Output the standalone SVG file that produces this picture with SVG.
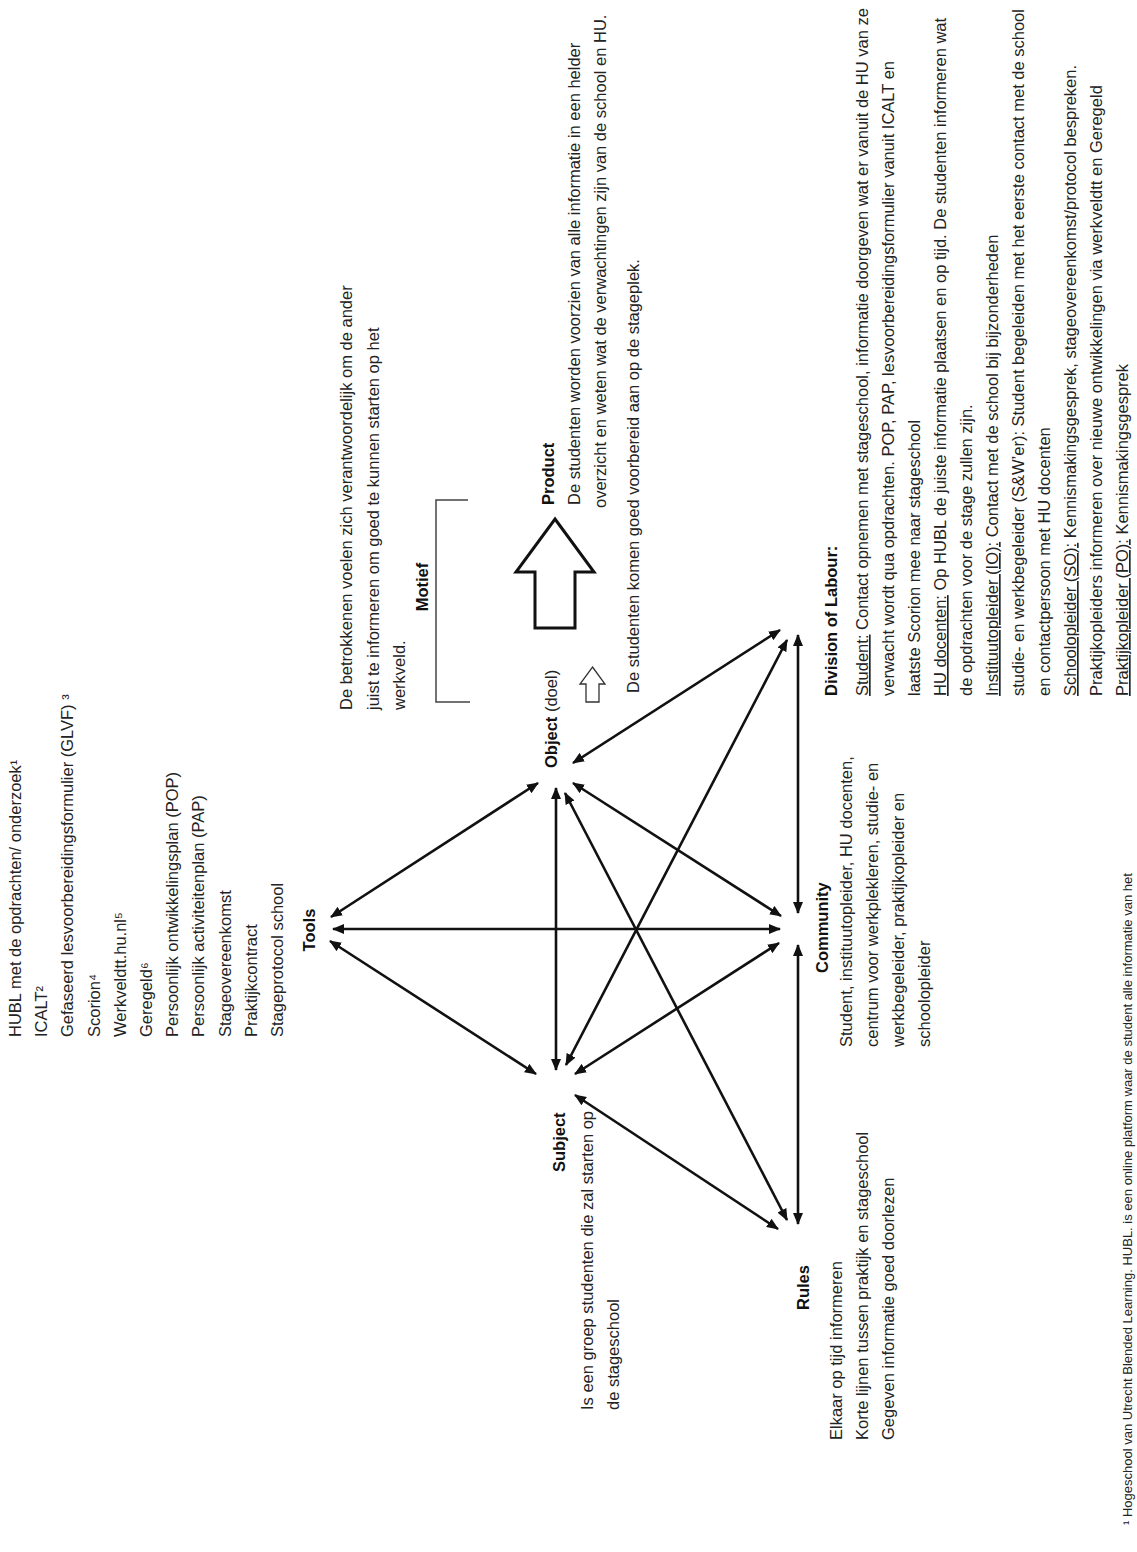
<svg xmlns="http://www.w3.org/2000/svg" width="1137" height="1552" viewBox="0 0 1137 1552">
<style>
text{font-family:"Liberation Sans",Arial,sans-serif;font-size:16.5px;fill:#232323}
.b{font-weight:bold;fill:#111}
.u{text-decoration:underline}
.fn{font-size:13px}
.con line{stroke:#111;stroke-width:2.6;marker-start:url(#ah);marker-end:url(#ah)}
</style>
<defs>
<marker id="ah" viewBox="0 0 12 10" refX="11" refY="5" markerWidth="12" markerHeight="10" markerUnits="userSpaceOnUse" orient="auto-start-reverse"><path d="M0,0 L12,5 L0,10 z" fill="#111"/></marker>
</defs>
<rect width="1137" height="1552" fill="#fff"/>

<g id="connectors" class="con">
<line x1="331" y1="917" x2="538" y2="783"/>
<line x1="333" y1="929" x2="780" y2="929"/>
<line x1="330" y1="941" x2="536" y2="1074"/>
<line x1="556" y1="788" x2="556" y2="1070"/>
<line x1="565" y1="793" x2="787" y2="1220"/>
<line x1="573" y1="783" x2="781" y2="916"/>
<line x1="573" y1="763" x2="780" y2="630"/>
<line x1="566" y1="1065" x2="787" y2="640"/>
<line x1="575" y1="1074" x2="779" y2="943"/>
<line x1="575" y1="1095" x2="778" y2="1229"/>
<line x1="798" y1="635" x2="798" y2="913"/>
<line x1="798" y1="945" x2="798" y2="1224"/>
</g>

<g id="tools">
<g transform="translate(21,1037) rotate(-90)">
<text x="0" y="0">HUBL met de opdrachten/ onderzoek¹</text>
<text x="0" y="26.2">ICALT²</text>
<text x="0" y="52.4">Gefaseerd lesvoorbereidingsformulier (GLVF) ³</text>
<text x="0" y="78.6">Scorion⁴</text>
<text x="0" y="104.8">Werkveldtt.hu.nl⁵</text>
<text x="0" y="131">Geregeld⁶</text>
<text x="0" y="157.2">Persoonlijk ontwikkelingsplan (POP)</text>
<text x="0" y="183.4">Persoonlijk activiteitenplan (PAP)</text>
<text x="0" y="209.6">Stageovereenkomst</text>
<text x="0" y="235.8">Praktijkcontract</text>
<text x="0" y="262">Stageprotocol school</text>
</g>
<text class="b" text-anchor="middle" transform="translate(315,930) rotate(-90)">Tools</text>
</g>

<g id="motive">
<g transform="translate(352,710) rotate(-90)">
<text x="0" y="0">De betrokkenen voelen zich verantwoordelijk om de ander</text>
<text x="0" y="26.5">juist te informeren om goed te kunnen starten op het</text>
<text x="0" y="53">werkveld.</text>
</g>
<text class="b" text-anchor="middle" transform="translate(428,587) rotate(-90)">Motief</text>
<path d="M468,500 H436 V702 H470" fill="none" stroke="#444" stroke-width="1.5"/>
</g>

<g id="object">
<text transform="translate(557,768) rotate(-90)"><tspan class="b">Object</tspan> (doel)</text>
<polygon points="592.5,667 605,684 599,684 599,702 586,702 586,684 580,684" fill="#fff" stroke="#333" stroke-width="1.3"/>
<text transform="translate(639,693) rotate(-90)">De studenten komen goed voorbereid aan op de stageplek.</text>
</g>

<g id="product">
<polygon points="555,519 594,572 575,572 575,628 535,628 535,572 516,572" fill="#fff" stroke="#111" stroke-width="3"/>
<text class="b" transform="translate(554,505) rotate(-90)">Product</text>
<text transform="translate(580,505) rotate(-90)">De studenten worden voorzien van alle informatie in een helder</text>
<text transform="translate(606,508) rotate(-90)">overzicht en weten wat de verwachtingen zijn van de school en HU.</text>
</g>

<g id="division">
<text class="b" transform="translate(837,696) rotate(-90)">Division of Labour:</text>
<g transform="translate(868,696) rotate(-90)">
<text x="0" y="0"><tspan class="u">Student:</tspan> Contact opnemen met stageschool, informatie doorgeven wat er vanuit de HU van ze</text>
<text x="0" y="26">verwacht wordt qua opdrachten. POP, PAP, lesvoorbereidingsformulier vanuit ICALT en</text>
<text x="0" y="52">laatste Scorion mee naar stageschool</text>
<text x="0" y="78"><tspan class="u">HU docenten:</tspan> Op HUBL de juiste informatie plaatsen en op tijd. De studenten informeren wat</text>
<text x="0" y="104">de opdrachten voor de stage zullen zijn.</text>
<text x="0" y="130"><tspan class="u">Instituutopleider (IO):</tspan> Contact met de school bij bijzonderheden</text>
<text x="0" y="156">studie- en werkbegeleider (S&amp;W’er): Student begeleiden met het eerste contact met de school</text>
<text x="0" y="182">en contactpersoon met HU docenten</text>
<text x="0" y="208"><tspan class="u">Schoolopleider (SO):</tspan> Kennismakingsgesprek, stageovereenkomst/protocol bespreken.</text>
<text x="0" y="234">Praktijkopleiders informeren over nieuwe ontwikkelingen via werkveldtt en Geregeld</text>
<text x="0" y="260"><tspan class="u">Praktijkopleider (PO):</tspan> Kennismakingsgesprek</text>
</g>
</g>

<g id="community">
<text class="b" transform="translate(828,973) rotate(-90)">Community</text>
<g transform="translate(852,1047) rotate(-90)">
<text x="0" y="0">Student, instituutopleider, HU docenten,</text>
<text x="0" y="26">centrum voor werkplekleren, studie- en</text>
<text x="0" y="52">werkbegeleider, praktijkopleider en</text>
<text x="0" y="78">schoolopleider</text>
</g>
</g>

<g id="subject">
<text class="b" transform="translate(565,1172) rotate(-90)">Subject</text>
<g transform="translate(593,1410) rotate(-90)">
<text x="0" y="0">Is een groep studenten die zal starten op</text>
<text x="0" y="26">de stageschool</text>
</g>
</g>

<g id="rules">
<text class="b" transform="translate(809,1310) rotate(-90)">Rules</text>
<g transform="translate(842,1440) rotate(-90)">
<text x="0" y="0">Elkaar op tijd informeren</text>
<text x="0" y="26">Korte lijnen tussen praktijk en stageschool</text>
<text x="0" y="52">Gegeven informatie goed doorlezen</text>
</g>
</g>

<g id="footnote">
<text class="fn" transform="translate(1132,1525) rotate(-90)">¹ Hogeschool van Utrecht Blended Learning. HUBL. is een online platform waar de student alle informatie van het</text>
</g>
</svg>
